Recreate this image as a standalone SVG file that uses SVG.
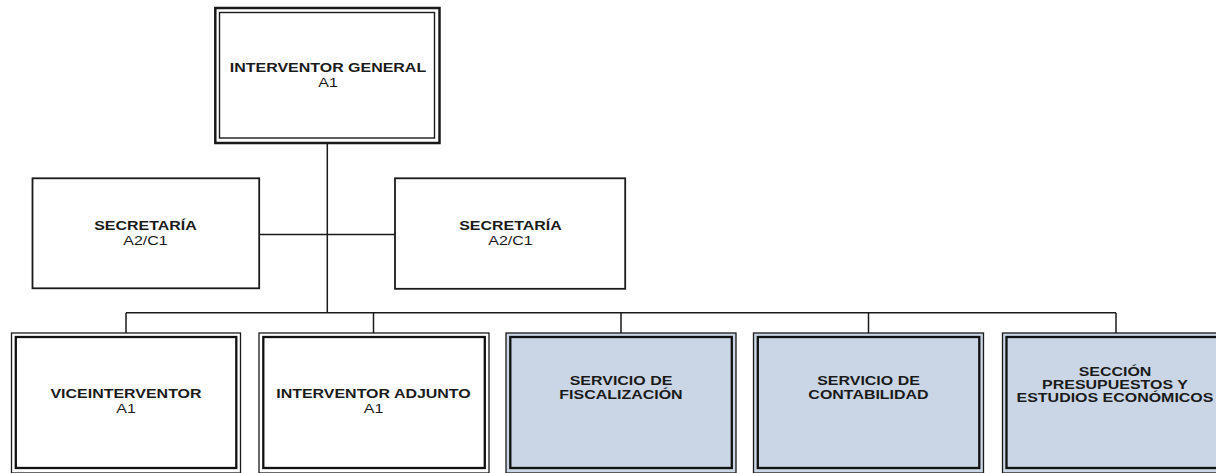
<svg xmlns="http://www.w3.org/2000/svg" width="1216" height="473" viewBox="0 0 1216 473">
<style>
.bg{fill:#ffffff}
.line{stroke:#1a1a1a;stroke-width:1.5;fill:none}
.o2{fill:#ffffff;stroke:#1a1a1a;stroke-width:2.5}
.i2{fill:none;stroke:#1a1a1a;stroke-width:1.4}
.single{fill:#ffffff;stroke:#1a1a1a;stroke-width:1.8}
.ob{fill:#ffffff;stroke:#1a1a1a;stroke-width:1.3}
.obb{fill:#cad6e5;stroke:#1a1a1a;stroke-width:1.3}
.ib{fill:none;stroke:#111111;stroke-width:2.3}
.t{font-family:"Liberation Sans",Arial,sans-serif;font-size:13.2px;font-weight:bold;text-anchor:middle;fill:#1a1a1a}
.r{font-weight:normal}
</style>
<rect class="bg" x="0" y="0" width="1216" height="473"/>
<g id="connectors">
<path class="line" d="M327.3 143 V312.7"/>
<path class="line" d="M259.2 234.5 H395"/>
<path class="line" d="M126 312.7 H1116"/>
<path class="line" d="M126 312.7 V333"/>
<path class="line" d="M373.5 312.7 V333"/>
<path class="line" d="M621 312.7 V333"/>
<path class="line" d="M868.5 312.7 V333"/>
<path class="line" d="M1116 312.7 V333"/>
</g>
<g id="interventor-general">
<rect class="o2" x="215.3" y="8" width="224.2" height="135"/>
<rect class="i2" x="219.5" y="12.5" width="215" height="125.5"/>
<text class="t" transform="translate(328 71.5) scale(1.21 1)">INTERVENTOR GENERAL</text>
<text class="t r" transform="translate(328 86.5) scale(1.21 1)">A1</text>
</g>
<g id="secretaria-1">
<rect class="single" x="32.5" y="178.3" width="226.7" height="110"/>
<text class="t" transform="translate(145.5 229.5) scale(1.21 1)">SECRETARÍA</text>
<text class="t r" transform="translate(145.5 244.5) scale(1.21 1)">A2/C1</text>
</g>
<g id="secretaria-2">
<rect class="single" x="395" y="178.3" width="230.2" height="110.5"/>
<text class="t" transform="translate(510.5 229.5) scale(1.21 1)">SECRETARÍA</text>
<text class="t r" transform="translate(510.5 244.5) scale(1.21 1)">A2/C1</text>
</g>
<g id="viceinterventor">
<rect class="ob" x="11.5" y="333" width="229" height="140"/>
<rect class="ib" x="15.8" y="337" width="220.5" height="131"/>
<text class="t" transform="translate(126 397.5) scale(1.21 1)">VICEINTERVENTOR</text>
<text class="t r" transform="translate(126 412.5) scale(1.21 1)">A1</text>
</g>
<g id="interventor-adjunto">
<rect class="ob" x="259" y="333" width="230" height="140"/>
<rect class="ib" x="263.3" y="337" width="221.5" height="131"/>
<text class="t" transform="translate(373.5 397.5) scale(1.21 1)">INTERVENTOR ADJUNTO</text>
<text class="t r" transform="translate(373.5 412.5) scale(1.21 1)">A1</text>
</g>
<g id="servicio-fiscalizacion">
<rect class="obb" x="506" y="333" width="230" height="140"/>
<rect class="ib" x="510.3" y="337" width="221.5" height="131"/>
<text class="t" transform="translate(621 384.5) scale(1.21 1)">SERVICIO DE</text>
<text class="t" transform="translate(621 398.5) scale(1.21 1)">FISCALIZACIÓN</text>
</g>
<g id="servicio-contabilidad">
<rect class="obb" x="753.5" y="333" width="230" height="140"/>
<rect class="ib" x="757.8" y="337" width="221.5" height="131"/>
<text class="t" transform="translate(868.5 384.5) scale(1.21 1)">SERVICIO DE</text>
<text class="t" transform="translate(868.5 398.5) scale(1.21 1)">CONTABILIDAD</text>
</g>
<g id="seccion-presupuestos">
<rect class="obb" x="1002.5" y="333" width="230" height="140"/>
<rect class="ib" x="1006.5" y="337" width="221.5" height="131"/>
<text class="t" transform="translate(1115 376) scale(1.21 1)">SECCIÓN</text>
<text class="t" transform="translate(1115 389) scale(1.21 1)">PRESUPUESTOS Y</text>
<text class="t" transform="translate(1115 402) scale(1.21 1)">ESTUDIOS ECONÓMICOS</text>
</g>
</svg>
